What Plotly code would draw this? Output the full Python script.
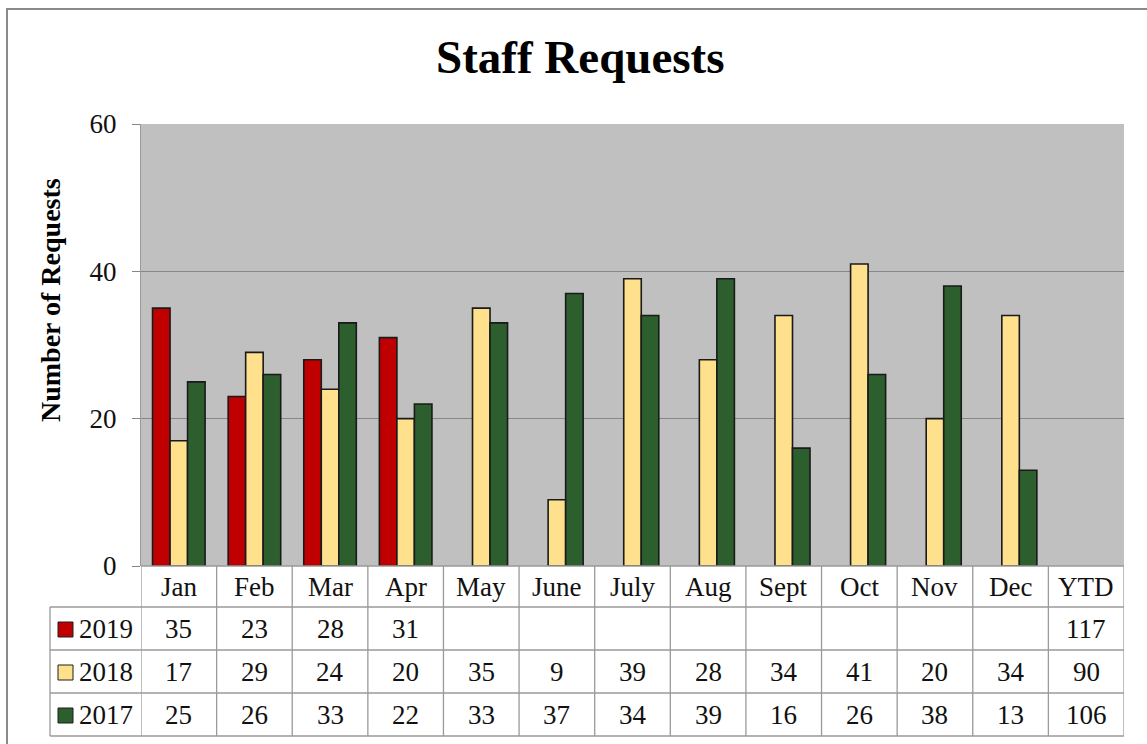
import plotly.graph_objects as go

# ---------------- data ----------------
categories = ["Jan", "Feb", "Mar", "Apr", "May", "June", "July", "Aug",
              "Sept", "Oct", "Nov", "Dec", "YTD"]
months = categories[:12]
series_names = ["2019", "2018", "2017"]
values_2019 = [35, 23, 28, 31, None, None, None, None, None, None, None, None]
values_2018 = [17, 29, 24, 20, 35, 9, 39, 28, 34, 41, 20, 34]
values_2017 = [25, 26, 33, 22, 33, 37, 34, 39, 16, 26, 38, 13]
ytd_values = [117, 90, 106]          # 2019, 2018, 2017
y_ticks = [0, 20, 40, 60]
title_text = "Staff Requests"
y_title = "Number of Requests"

series_values = [values_2019, values_2018, values_2017]
series_colors = ["#C00000", "#FFE08C", "#2D5F2E"]

# ---------------- geometry helpers (pixel -> paper) ----------------
W, H = 1147, 744
def fx(px):
    return px / W
def fy(py):
    return 1 - py / H

PLOT_L, PLOT_R, PLOT_T, PLOT_B = 141, 1124, 124, 566
ROW_LINES = [566, 607, 650, 693, 736]     # table horizontal rule positions
TABLE_L = 50
FONT = "Liberation Serif, Times New Roman, serif"
GRID = "#878787"
LINE = "#9a9a9a"

fig = go.Figure()
for name, vals, col in zip(series_names, series_values, series_colors):
    fig.add_trace(go.Bar(
        x=months, y=vals, name=name,
        marker=dict(color=col, line=dict(color="#1a1a1a", width=1.6)),
        showlegend=False,
    ))

shapes = []
annotations = []

# outer chart border
shapes.append(dict(type="rect", xref="paper", yref="paper",
                   x0=fx(7), x1=1.05, y0=-0.05, y1=fy(9),
                   line=dict(color="#8a8a8a", width=2), fillcolor="rgba(0,0,0,0)"))

# table horizontal lines
shapes.append(dict(type="line", xref="paper", yref="paper",
                   x0=fx(PLOT_L), x1=fx(PLOT_R), y0=fy(ROW_LINES[0]), y1=fy(ROW_LINES[0]),
                   line=dict(color=LINE, width=1.3)))
for py in ROW_LINES[1:]:
    shapes.append(dict(type="line", xref="paper", yref="paper",
                       x0=fx(TABLE_L), x1=fx(PLOT_R), y0=fy(py), y1=fy(py),
                       line=dict(color=LINE, width=1.3)))
# table vertical lines (category boundaries, via x-axis scale)
for i in range(len(categories) + 1):
    shapes.append(dict(type="line", xref="x", yref="paper",
                       x0=i - 0.5, x1=i - 0.5, y0=fy(ROW_LINES[0]), y1=fy(ROW_LINES[-1]),
                       line=dict(color=LINE, width=1.3)))
shapes.append(dict(type="line", xref="paper", yref="paper",
                   x0=fx(TABLE_L), x1=fx(TABLE_L), y0=fy(ROW_LINES[1]), y1=fy(ROW_LINES[-1]),
                   line=dict(color=LINE, width=1.3)))

tfont = dict(family=FONT, size=27, color="#111111")

# header labels
hdr_y = fy((ROW_LINES[0] + ROW_LINES[1]) / 2)
for i, c in enumerate(categories):
    annotations.append(dict(xref="x", yref="paper", x=i, y=hdr_y, text=c,
                            showarrow=False, font=tfont,
                            xanchor="center", yanchor="middle"))

# rows
for r, (name, vals, col, ytd) in enumerate(zip(series_names, series_values,
                                               series_colors, ytd_values)):
    top, bot = ROW_LINES[r + 1], ROW_LINES[r + 2]
    cy = (top + bot) / 2
    shapes.append(dict(type="rect", xref="paper", yref="paper",
                       x0=fx(58), x1=fx(73), y0=fy(cy - 6.5), y1=fy(cy + 8.5),
                       fillcolor=col, line=dict(color="#1e1e1e", width=1)))
    annotations.append(dict(xref="paper", yref="paper", x=fx(77), y=fy(cy), text=name,
                            showarrow=False, font=tfont, xanchor="left", yanchor="middle"))
    for i, v in enumerate(vals + [ytd]):
        if v is None:
            continue
        annotations.append(dict(xref="x", yref="paper", x=i, y=fy(cy), text=str(v),
                                showarrow=False, font=tfont,
                                xanchor="center", yanchor="middle"))

# title and y-axis title
annotations.append(dict(xref="paper", yref="paper", x=fx(580), y=fy(57),
                        text="<b>" + title_text + "</b>", showarrow=False,
                        font=dict(family=FONT, size=47, color="#000000"),
                        xanchor="center", yanchor="middle"))
annotations.append(dict(xref="paper", yref="paper", x=fx(50), y=fy(300),
                        text="<b>" + y_title + "</b>", textangle=-90, showarrow=False,
                        font=dict(family=FONT, size=28, color="#000000"),
                        xanchor="center", yanchor="middle"))

fig.update_layout(
    width=W, height=H,
    margin=dict(l=0, r=0, t=0, b=0, pad=0, autoexpand=False),
    paper_bgcolor="#ffffff",
    plot_bgcolor="#C0C0C0",
    barmode="group",
    bargap=0.305,
    bargroupgap=0,
    shapes=shapes,
    annotations=annotations,
    xaxis=dict(domain=[fx(PLOT_L), fx(PLOT_R)], type="category",
               categoryorder="array", categoryarray=categories,
               range=[-0.5, len(categories) - 0.5],
               showticklabels=False, ticks="", showgrid=False,
               showline=False, zeroline=False, fixedrange=True,
               automargin=False),
    yaxis=dict(domain=[fy(PLOT_B), fy(PLOT_T)], range=[0, 60],
               tickvals=y_ticks, ticktext=[str(t) for t in y_ticks],
               ticks="outside", ticklen=8, tickcolor=GRID, tickwidth=1,
               ticklabelstandoff=10,
               tickfont=dict(family=FONT, size=27, color="#111111"),
               showgrid=True, gridcolor=GRID, gridwidth=1,
               showline=True, linecolor=LINE, linewidth=1.3,
               zeroline=False, fixedrange=True, automargin=False),
)

fig.write_html("out.html", post_script="document.body.style.margin='0px';",
               config={"displayModeBar": False})
